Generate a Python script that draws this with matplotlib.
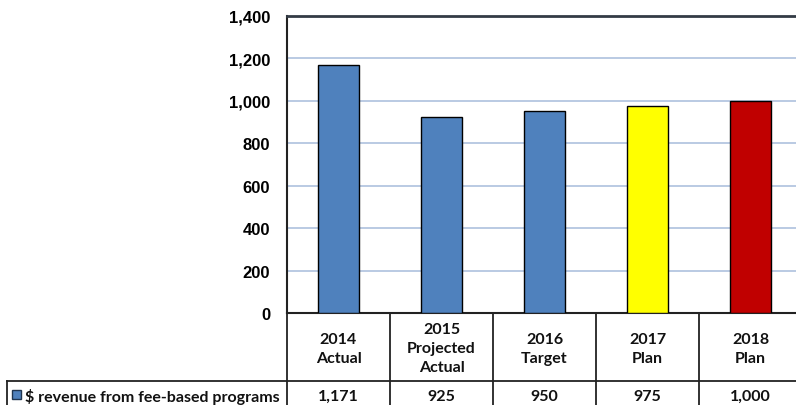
import matplotlib
matplotlib.use("Agg")
import matplotlib.pyplot as plt
from matplotlib import transforms
from matplotlib.patches import Rectangle

categories = ["2014\nActual", "2015\nProjected\nActual", "2016\nTarget", "2017\nPlan", "2018\nPlan"]
values = [1171, 925, 950, 975, 1000]
value_labels = ["1,171", "925", "950", "975", "1,000"]
series_name = "$ revenue from fee-based programs"
bar_colors = ["#4F81BD", "#4F81BD", "#4F81BD", "#FFFF00", "#C00000"]
yticks = [0, 200, 400, 600, 800, 1000, 1200, 1400]

W, H = 796, 406
fig = plt.figure(figsize=(W / 100, H / 100), dpi=100)

def fx(px):
    return px / W

def fy(py):
    return 1 - py / H

ax_left, ax_right, ax_top, ax_bottom = 287, 802, 17, 314
ax = fig.add_axes([fx(ax_left), fy(ax_bottom), fx(ax_right - ax_left), (ax_bottom - ax_top) / H])

x = list(range(len(values)))
ax.bar(x, values, width=0.4, color=bar_colors, edgecolor="black", linewidth=1.0, zorder=3)
ax.set_xlim(-0.5, len(values) - 0.5)
ax.set_ylim(0, 1400)
ax.set_yticks(yticks)
ax.set_yticklabels([f"{v:,}" for v in yticks], fontfamily="Liberation Sans",
                   fontweight="bold", fontsize=12)
ax.tick_params(axis="y", length=0, pad=12)
ax.set_xticks([])
ax.grid(axis="y", color="#B4C6E0", linewidth=1.3, zorder=0)
for s in ["top", "left", "bottom", "right"]:
    ax.spines[s].set_color("#222222")
    ax.spines[s].set_linewidth(1.5)
ax.spines["top"].set_color("#333b45")
ax.spines["top"].set_linewidth(2)

# Data table below the axes
trans = transforms.blended_transform_factory(ax.transData, fig.transFigure)
line_kw = dict(color="#222222", linewidth=1.3, clip_on=False)
row_sep = 381.5
table_bottom = 412
for i in range(len(values)):
    xb = i - 0.5
    fig.add_artist(plt.Line2D([xb, xb], [fy(ax_bottom), fy(table_bottom)], transform=trans, **line_kw))
fig.add_artist(plt.Line2D([fx(7), fx(ax_right)], [fy(row_sep), fy(row_sep)],
                          transform=fig.transFigure, **line_kw))
fig.add_artist(plt.Line2D([fx(7), fx(7)], [fy(row_sep), fy(table_bottom)],
                          transform=fig.transFigure, **line_kw))

txt_kw = dict(fontfamily="Lato", fontweight="bold", fontsize=11.5, color="#111111")
header_mid = (ax_bottom + row_sep) / 2 + 1.5
data_mid = 397
for i, (cat, lab) in enumerate(zip(categories, value_labels)):
    fig.text(i, fy(header_mid), cat, transform=trans, ha="center", va="center",
             linespacing=1.45, **txt_kw)
    fig.text(i, fy(data_mid), lab, transform=trans, ha="center", va="center", **txt_kw)

fig.add_artist(Rectangle((fx(12), fy(399.5)), fx(9), 9 / H, transform=fig.transFigure,
                         facecolor="#4F81BD", edgecolor="#1F3550", linewidth=1.0))
fig.text(fx(25), fy(data_mid), series_name, ha="left", va="center", **txt_kw)

fig.savefig("out.png", dpi=100)
